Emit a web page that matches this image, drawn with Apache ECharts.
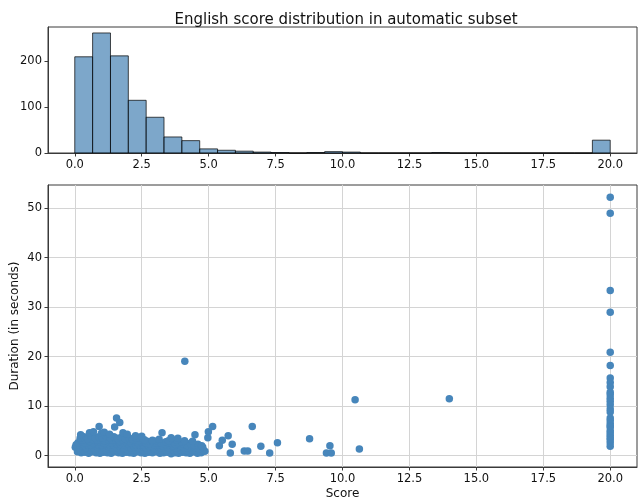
<!DOCTYPE html>
<html lang="en">
<head>
<meta charset="UTF-8">
<script src="https://cdn.jsdelivr.net/npm/echarts@6/dist/echarts.min.js"></script>
<title>English score distribution</title>
<style>
  html, body { margin: 0; padding: 0; background: #fff; }
  #main { width: 638px; height: 502px; }
</style>
</head>
<body>
<div id="main"></div>
<script type="text/javascript">
// histogram: 30 bins from 0 to 20
var binStart = 0;
var binWidth = 20 / 30;
var histCounts = [210, 262, 212, 115, 78, 35, 27, 9, 6, 4, 2, 1, 0, 1, 3, 2, 0, 0, 0, 0, 1, 0, 0, 0, 0, 0, 0, 0, 0, 28];

// scatter: [score, duration] (dense cluster below 5)
var blobPoints = [
  [0.10,0.8],[0.24,0.6],[0.38,0.7],[0.52,0.5],[0.66,0.8],[0.80,0.6],[0.94,0.5],[1.08,0.7],[1.22,0.6],[1.36,0.5],[1.50,0.8],[1.64,0.6],
  [1.78,0.5],[1.92,0.7],[2.06,0.6],[2.20,0.5],[2.34,0.8],[2.48,0.6],[2.62,0.5],[2.76,0.7],[2.90,0.6],[3.04,0.8],[3.18,0.5],[3.32,0.6],
  [3.46,0.7],[3.60,0.4],[3.74,0.6],[3.88,0.5],[4.02,0.7],[4.16,0.6],[4.30,0.5],[4.44,0.8],[4.58,0.5],[4.72,0.6],[4.86,0.9],
  [0.17,1.2],[0.31,1.1],[0.45,1.3],[0.59,1.1],[0.73,1.2],[0.87,1.3],[1.01,1.1],[1.15,1.2],[1.29,1.3],[1.43,1.1],[1.57,1.2],[1.71,1.1],
  [1.85,1.3],[1.99,1.2],[2.13,1.1],[2.27,1.2],[2.41,1.3],[2.55,1.1],[2.69,1.2],[2.83,1.1],[2.97,1.3],[3.11,1.2],[3.25,1.1],[3.39,1.2],
  [3.53,1.1],[3.67,1.2],[3.81,1.0],[3.95,1.2],[4.09,1.1],[4.23,1.0],[4.37,1.2],[4.51,1.1],[4.65,1.0],[4.79,1.2],
  [0.02,1.7],[0.16,1.5],[0.30,1.9],[0.44,1.6],[0.58,1.8],[0.72,1.5],[0.86,1.7],[1.00,1.9],[1.14,1.6],[1.28,1.8],[1.42,1.5],[1.56,1.7],
  [1.70,1.9],[1.84,1.6],[1.98,1.8],[2.12,1.5],[2.26,1.7],[2.40,1.6],[2.54,1.8],[2.68,1.5],[2.82,1.7],[2.96,1.6],[3.10,1.8],[3.24,1.5],
  [3.38,1.7],[3.52,1.6],[3.66,1.8],[3.80,1.5],[3.94,1.7],[4.08,1.6],[4.22,1.5],[4.36,1.8],[4.50,1.6],[4.64,1.4],[4.78,1.7],
  [0.05,2.2],[0.19,2.1],[0.33,2.3],[0.47,2.2],[0.61,2.1],[0.75,2.3],[0.89,2.2],[1.03,2.1],[1.17,2.3],[1.31,2.2],[1.45,2.1],[1.59,2.3],
  [1.73,2.2],[1.87,2.1],[2.01,2.3],[2.15,2.2],[2.29,2.1],[2.43,2.2],[2.57,2.1],[2.71,2.2],[2.85,2.0],[2.99,2.1],[3.13,2.2],[3.27,2.0],
  [3.41,2.1],[3.55,2.2],[3.69,2.0],[3.83,2.1],[3.97,2.0],[4.11,2.1],[4.25,1.9],[4.39,2.0],[4.53,1.9],[4.67,2.0],
  [0.12,2.6],[0.26,2.9],[0.40,2.5],[0.54,2.8],[0.68,2.6],[0.82,2.9],[0.96,2.7],[1.10,2.5],[1.24,2.8],[1.38,2.6],[1.52,2.9],[1.66,2.7],
  [1.80,2.5],[1.94,2.8],[2.08,2.6],[2.22,2.9],[2.36,2.5],[2.50,2.7],[2.64,2.6],[2.78,2.4],[2.92,2.7],[3.06,2.5],[3.20,2.6],[3.34,2.4],
  [3.48,2.6],[3.62,2.5],[3.76,2.3],[3.90,2.6],[4.04,2.4],[4.18,2.2],[4.32,2.5],[4.46,2.1],[4.60,2.3],[4.74,2.0],
  [0.27,3.1],[0.41,3.2],[0.55,3.0],[0.69,3.2],[0.83,3.1],[0.97,3.2],[1.11,3.0],[1.25,3.2],[1.39,3.1],[1.53,3.2],[1.67,3.0],[1.81,3.1],
  [1.95,3.2],[2.09,3.0],[2.23,3.1],[2.37,3.0],[2.70,2.9],[3.00,2.9],[3.40,2.8],[3.70,2.8],[4.00,2.7],
  [0.20,3.5],[0.34,3.8],[0.48,3.4],[0.62,3.9],[0.76,3.6],[0.90,3.8],[1.04,3.5],[1.18,3.9],[1.32,3.6],[1.46,3.8],[1.60,3.5],[1.74,3.7],
  [1.88,3.4],[2.02,3.6],[2.16,3.3],[2.30,3.5],[2.60,3.2],[2.90,3.1],[3.15,3.3],[3.50,3.0],[3.80,3.2],[4.10,3.0],[4.40,2.9],
  [0.22,4.2],[0.55,4.6],[0.70,4.8],[0.91,5.9],[1.00,4.5],[1.10,4.7],[1.30,4.3],[1.49,5.8],[1.56,7.6],[1.68,6.7],[1.80,4.6],[1.96,4.3],
  [2.27,4.0],[2.50,3.9],[3.26,4.6],[3.60,3.6],[3.85,3.5],[4.11,19.1],[4.49,4.2],[4.97,3.6],[4.99,4.85],[5.15,5.9]
];
var tailPoints = [
  [5.40,2.0],[5.51,3.1],[5.73,4.0],[5.81,0.55],[5.88,2.3],[6.33,0.95],[6.46,0.95],[6.63,5.9],[6.95,1.9],[7.28,0.55],[7.57,2.6],
  [8.77,3.4],[9.40,0.55],[9.53,2.0],[9.58,0.55],[10.47,11.3],[10.63,1.35],[13.99,11.5]
];
var perfectScore = 20;
var perfectDurations = [52.2, 49.0, 33.4, 29.0, 20.9, 18.2, 15.7, 14.8, 13.9, 12.8, 12.3, 11.6, 11.0, 10.3, 9.4, 8.8,
  7.6, 7.1, 6.5, 6.0, 5.8, 5.1, 4.6, 4.1, 3.6, 3.2, 2.6, 1.9];

var scoreTicks = [0, 2.5, 5, 7.5, 10, 12.5, 15, 17.5, 20];
var countTicks = [0, 100, 200];
var durationTicks = [0, 10, 20, 30, 40, 50];

var chart = echarts.init(document.getElementById('main'));

var histData = histCounts.map(function (c, i) {
  return [binStart + i * binWidth, binStart + (i + 1) * binWidth, c];
});
var scatterData = blobPoints.concat(tailPoints).concat(perfectDurations.map(function (d) { return [perfectScore, d]; }));

var font = 'DejaVu Sans';
var frame = '#3a3a3a';

function fmt1(v) { return v.toFixed(1); }

var option = {
  animation: false,
  backgroundColor: '#fff',
  textStyle: { fontFamily: font },
  title: {
    text: 'English score distribution in automatic subset',
    left: 341, top: 8, textAlign: 'center',
    textStyle: { fontFamily: font, fontSize: 15, fontWeight: 'normal', color: '#111' }
  },
  grid: [
    { left: 48, right: 1, top: 27, bottom: 349, show: true, borderColor: frame, borderWidth: 1, outerBoundsMode: 'none', containLabel: false },
    { left: 48, right: 1, top: 185, bottom: 35, show: true, borderColor: frame, borderWidth: 1, outerBoundsMode: 'none', containLabel: false }
  ],
  xAxis: [
    {
      gridIndex: 0, type: 'value', min: -1, max: 21,
      axisLine: { show: true, onZero: false, lineStyle: { color: frame } },
      axisTick: { show: true, length: 3.5, customValues: scoreTicks, lineStyle: { color: frame } },
      axisLabel: { customValues: scoreTicks, formatter: fmt1, margin: 6, fontSize: 11.5, color: '#111', fontFamily: font },
      splitLine: { show: false }
    },
    {
      gridIndex: 1, type: 'value', min: -1, max: 21,
      name: 'Score', nameLocation: 'middle', nameGap: 21, nameMoveOverlap: false,
      nameTextStyle: { fontSize: 12, color: '#111', fontFamily: font },
      axisLine: { show: true, onZero: false, lineStyle: { color: frame } },
      axisTick: { show: true, length: 3.5, customValues: scoreTicks, lineStyle: { color: frame } },
      axisLabel: { customValues: scoreTicks, formatter: fmt1, margin: 6, fontSize: 11.5, color: '#111', fontFamily: font },
      splitLine: { show: true, lineStyle: { color: '#d4d4d4', width: 1 } }
    }
  ],
  yAxis: [
    {
      gridIndex: 0, type: 'value', min: 0, max: 275,
      axisLine: { show: true, onZero: false, lineStyle: { color: frame } },
      axisTick: { show: true, length: 3.5, customValues: countTicks, lineStyle: { color: frame } },
      axisLabel: { customValues: countTicks, margin: 6, fontSize: 11.5, color: '#111', fontFamily: font },
      splitLine: { show: false }
    },
    {
      gridIndex: 1, type: 'value', min: -2.3, max: 54.7,
      name: 'Duration (in seconds)', nameLocation: 'middle', nameGap: 27, nameMoveOverlap: false,
      nameTextStyle: { fontSize: 12, color: '#111', fontFamily: font },
      axisLine: { show: true, onZero: false, lineStyle: { color: frame } },
      axisTick: { show: true, length: 3.5, customValues: durationTicks, lineStyle: { color: frame } },
      axisLabel: { customValues: durationTicks, margin: 6, fontSize: 11.5, color: '#111', fontFamily: font },
      splitLine: { show: true, lineStyle: { color: '#d4d4d4', width: 1 } }
    }
  ],
  series: [
    {
      type: 'custom',
      xAxisIndex: 0, yAxisIndex: 0,
      data: histData,
      encode: { x: [0, 1], y: 2 },
      renderItem: function (params, api) {
        var p0 = api.coord([api.value(0), api.value(2)]);
        var p1 = api.coord([api.value(1), 0]);
        return {
          type: 'rect',
          shape: { x: p0[0], y: p0[1], width: p1[0] - p0[0], height: p1[1] - p0[1] },
          style: { fill: 'rgba(70,130,180,0.7)', stroke: 'rgba(0,0,0,0.7)', lineWidth: 1 }
        };
      }
    },
    {
      type: 'scatter',
      xAxisIndex: 1, yAxisIndex: 1,
      data: scatterData,
      symbolSize: 7.5,
      itemStyle: { color: '#4786bb', opacity: 1 }
    }
  ]
};
chart.setOption(option);
</script>
</body>
</html>
